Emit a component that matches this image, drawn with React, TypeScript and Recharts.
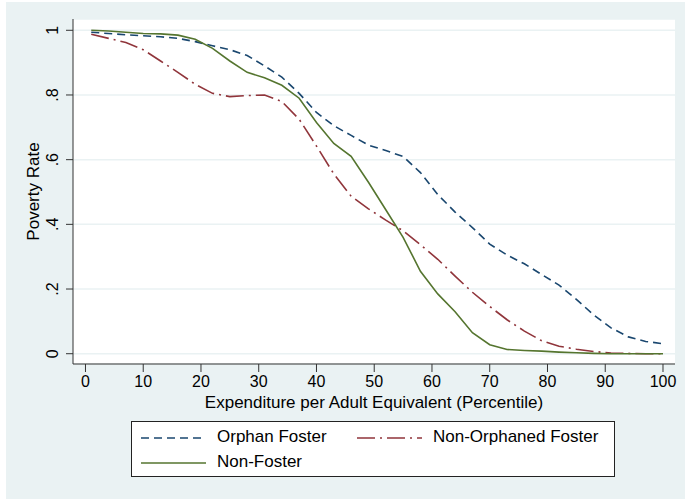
import { LineChart, Line, XAxis, YAxis, CartesianGrid, Label } from 'recharts';

// percentile points and poverty rates
const percentiles = [1, 4, 7, 10, 13, 16, 19, 22, 25, 28, 31, 34, 37, 40, 43, 46, 49, 52, 55, 58, 61, 64, 67, 70, 73, 76, 79, 82, 85, 88, 91, 94, 97, 100];

const orphanFoster = [0.994, 0.99, 0.986, 0.983, 0.98, 0.975, 0.965, 0.952, 0.94, 0.922, 0.89, 0.855, 0.805, 0.746, 0.705, 0.675, 0.645, 0.628, 0.61, 0.56, 0.492, 0.438, 0.39, 0.339, 0.305, 0.278, 0.245, 0.212, 0.168, 0.12, 0.08, 0.052, 0.038, 0.031];

const nonOrphanedFoster = [0.988, 0.975, 0.962, 0.94, 0.905, 0.87, 0.833, 0.805, 0.795, 0.798, 0.8, 0.78, 0.725, 0.642, 0.556, 0.487, 0.448, 0.413, 0.38, 0.337, 0.292, 0.24, 0.19, 0.146, 0.105, 0.07, 0.04, 0.023, 0.014, 0.007, 0.002, 0.001, 0, 0];

const nonFoster = [1.0, 0.998, 0.994, 0.99, 0.989, 0.985, 0.972, 0.944, 0.905, 0.87, 0.853, 0.83, 0.79, 0.715, 0.65, 0.61, 0.53, 0.445, 0.36, 0.255, 0.185, 0.13, 0.065, 0.028, 0.013, 0.01, 0.008, 0.005, 0.003, 0.001, 0, 0, 0, 0];

const xTicks = [0, 10, 20, 30, 40, 50, 60, 70, 80, 90, 100];
const yTicks = [0, 0.2, 0.4, 0.6, 0.8, 1];

const BG = '#eaf2f3';
const FONT = '"Liberation Sans", Arial, sans-serif';
const BLUE = '#1a476f';
const RED = '#90353b';
const GREEN = '#55752f';

const data = percentiles.map((p, i) => ({
  p,
  orphan: orphanFoster[i],
  nonOrphaned: nonOrphanedFoster[i],
  nonFoster: nonFoster[i],
}));

const fmtY = (v: number) => (v === 0 ? '0' : v === 1 ? '1' : String(v).replace(/^0\./, '.'));

const YTick = (props: any) => {
  const { x, y, payload } = props;
  return (
    <text
      transform={`translate(${x - 12},${y}) rotate(-90)`}
      textAnchor="middle"
      dy="0.35em"
      fontSize={16}
      fill="#000"
      fontFamily={FONT}
    >
      {fmtY(payload.value)}
    </text>
  );
};

const LegendSample = ({ color, dash }: { color: string; dash?: string }) => (
  <svg width={65} height={4} style={{ display: 'block' }}>
    <line x1={0} y1={2} x2={65} y2={2} stroke={color} strokeWidth={1.6} strokeDasharray={dash} />
  </svg>
);

const legendText = { position: 'absolute' as const, lineHeight: '20px', whiteSpace: 'nowrap' as const };

export default function App() {
  return (
    <div style={{ position: 'absolute', left: 0, top: 0, width: 685, height: 499, background: '#fff', fontFamily: FONT }}>
      <div style={{ position: 'absolute', left: 6, top: 2, width: 679, height: 497, background: BG }}>
        <LineChart width={679} height={497} data={data} margin={{ top: 17, right: 10, left: 0, bottom: 105 }}>
          <CartesianGrid vertical={false} stroke={BG} strokeWidth={1.5} fill="#fff" />
          <XAxis
            dataKey="p"
            type="number"
            domain={[-2.16, 102.08]}
            ticks={xTicks}
            allowDataOverflow
            height={30}
            tickSize={8}
            tickMargin={4}
            tick={{ fill: '#000', fontSize: 16, fontFamily: FONT }}
            stroke="#333"
          >
            <Label
              content={(p: any) => {
                const vb = p.viewBox;
                return (
                  <text x={vb.x + vb.width / 2} y={vb.y + 44} textAnchor="middle" fontSize={17} fill="#000" fontFamily={FONT}>
                    Expenditure per Adult Equivalent (Percentile)
                  </text>
                );
              }}
            />
          </XAxis>
          <YAxis
            type="number"
            domain={[-0.0318, 1.0349]}
            ticks={yTicks}
            allowDataOverflow
            width={67}
            tickSize={7}
            tickMargin={2}
            tick={<YTick />}
            stroke="#333"
          >
            <Label
              content={(p: any) => {
                const vb = p.viewBox;
                const cx = vb.x + 27;
                const cy = vb.y + vb.height / 2;
                return (
                  <text
                    transform={`translate(${cx},${cy}) rotate(-90)`}
                    textAnchor="middle"
                    dy="0.35em"
                    fontSize={17}
                    fill="#000"
                    fontFamily={FONT}
                  >
                    Poverty Rate
                  </text>
                );
              }}
            />
          </YAxis>
          <Line
            dataKey="orphan"
            stroke={BLUE}
            strokeWidth={1.6}
            strokeDasharray="8 5"
            dot={false}
            type="linear"
            isAnimationActive={false}
          />
          <Line
            dataKey="nonOrphaned"
            stroke={RED}
            strokeWidth={1.6}
            strokeDasharray="18 5 2 5"
            dot={false}
            type="linear"
            isAnimationActive={false}
          />
          <Line
            dataKey="nonFoster"
            stroke={GREEN}
            strokeWidth={1.6}
            dot={false}
            type="linear"
            isAnimationActive={false}
          />
        </LineChart>
        <div
          style={{
            position: 'absolute',
            left: 125,
            top: 419,
            width: 482,
            height: 54,
            background: '#fff',
            border: '1px solid #222',
            fontSize: 17,
            color: '#000',
          }}
        >
          <div style={{ position: 'absolute', left: 9, top: 14 }}>
            <LegendSample color={BLUE} dash="8 5" />
          </div>
          <div style={{ ...legendText, left: 85, top: 5 }}>Orphan Foster</div>
          <div style={{ position: 'absolute', left: 225, top: 14 }}>
            <LegendSample color={RED} dash="18 5 2 5" />
          </div>
          <div style={{ ...legendText, left: 301, top: 5 }}>Non-Orphaned Foster</div>
          <div style={{ position: 'absolute', left: 9, top: 39 }}>
            <LegendSample color={GREEN} />
          </div>
          <div style={{ ...legendText, left: 85, top: 30 }}>Non-Foster</div>
        </div>
      </div>
    </div>
  );
}
